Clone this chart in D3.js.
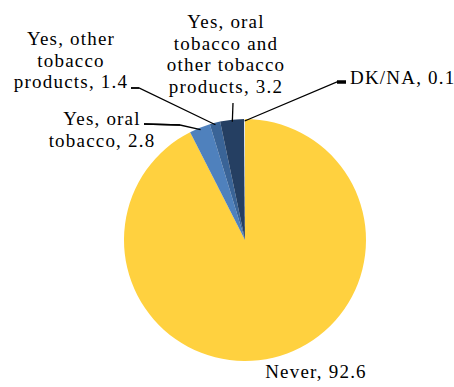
<!DOCTYPE html>
<html>
<head>
<meta charset="utf-8">
<script src="https://cdn.jsdelivr.net/npm/d3@7"></script>
<style>
  body { margin: 0; background: #fff; }
  .label-text { font-family: 'Liberation Serif', 'DejaVu Serif', serif; font-size: 19px; letter-spacing: 1.2px; fill: #000; }
</style>
</head>
<body>
<div id="chart"></div>
<script>
// data
let categories = ['Never', 'Yes, oral tobacco', 'Yes, other tobacco products', 'Yes, oral tobacco and other tobacco products', 'DK/NA']
let values = [92.6, 2.8, 1.4, 3.2, 0.1]
let labelLines = [
  ['Never, 92.6'],
  ['Yes, oral', 'tobacco, 2.8'],
  ['Yes, other', 'tobacco', 'products, 1.4'],
  ['Yes, oral', 'tobacco and', 'other tobacco', 'products, 3.2'],
  ['DK/NA, 0.1']
]
let colors = ['#ffd13f', '#4f81bd', '#3a6497', '#253f62', '#eef2f8']

let width = 454
let height = 387
let cx = 245
let cy = 240
let radius = 121

// label layout: text anchor point, first baseline, leader elbow points, width of the last leader bit
let labelLayout = [
  { x: 316, y: 378, anchor: 'middle', leader: null },
  { x: 102, y: 125, anchor: 'middle', leader: [[144, 124], [180, 125]], tip: 1.3 },
  { x: 71, y: 45, anchor: 'middle', leader: [[131, 88], [139, 88]], tip: 1.3 },
  { x: 226, y: 28, anchor: 'middle', leader: [[233, 103]], tip: 1.3 },
  { x: 350, y: 84, anchor: 'start', leader: [[346, 82], [337, 82]], tip: 3.5 }
]
let lineHeight = 21.7

let svg = d3
  .select('#chart')
  .append('svg')
  .attr('width', width)
  .attr('height', height)

let data = categories.map((c, i) => ({ key: c, value: values[i], lines: labelLines[i], layout: labelLayout[i] }))

let pie = d3
  .pie()
  .sort(null)
  .value(d => d.value)

let arc = d3.arc().innerRadius(0).outerRadius(radius)

let g = svg.append('g').attr('transform', `translate(${cx}, ${cy})`)

let arcs = pie(data)

g.selectAll('.slice')
  .data(arcs)
  .enter()
  .append('path')
  .attr('class', 'slice')
  .attr('d', arc)
  .attr('fill', (d, i) => colors[i])

// leader lines from the outer edge of each slice
let edgeArc = d3.arc().innerRadius(radius - 2).outerRadius(radius - 2)

let leader = d3.line()

arcs.forEach(d => {
  let lay = d.data.layout
  if (!lay.leader) return
  let p = edgeArc.centroid(d)
  let start = [cx + p[0], cy + p[1]]
  let pts = [start].concat(lay.leader.slice().reverse())
  svg
    .append('path')
    .attr('class', 'leader')
    .attr('d', leader(pts))
    .attr('fill', 'none')
    .attr('stroke', '#000')
    .attr('stroke-width', 1.3)
  if (lay.leader.length > 1) {
    // the short bit next to the label
    svg
      .append('path')
      .attr('class', 'leader-tip')
      .attr('d', leader(lay.leader))
      .attr('stroke', '#000')
      .attr('stroke-width', lay.tip)
  }
})

// labels
data.forEach(d => {
  let lay = d.layout
  let t = svg
    .append('text')
    .attr('class', 'label-text')
    .attr('text-anchor', lay.anchor)
  d.lines.forEach((line, i) => {
    t.append('tspan')
      .attr('x', lay.x)
      .attr('y', lay.y + i * lineHeight)
      .text(line)
  })
})
</script>
</body>
</html>
